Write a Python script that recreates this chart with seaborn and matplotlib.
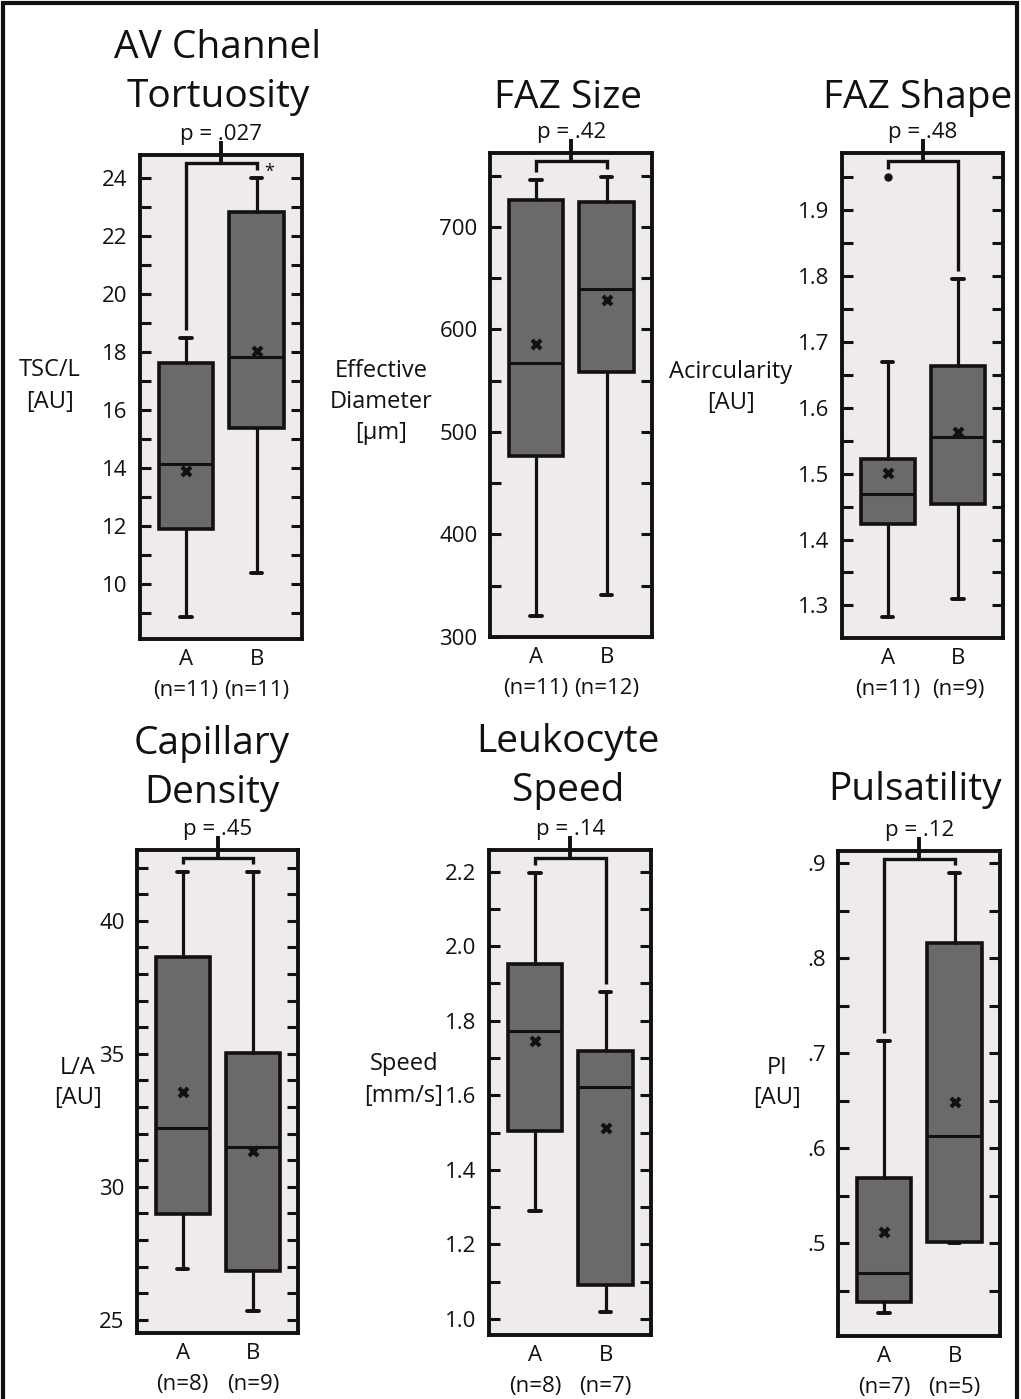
import matplotlib
matplotlib.use("Agg")
import matplotlib.pyplot as plt
import seaborn as sns
from matplotlib.patches import Rectangle
from matplotlib.ticker import FixedLocator, FixedFormatter, MultipleLocator

# ---- data ----
titles = ["AV Channel\nTortuosity", "FAZ Size", "FAZ Shape",
          "Capillary\nDensity", "Leukocyte\nSpeed", "Pulsatility"]
ylabels = ["TSC/L\n[AU]", "Effective\nDiameter\n[µm]", "Acircularity\n[AU]",
           "L/A\n[AU]", "Speed\n[mm/s]", "PI\n[AU]"]
p_labels = ["p = .027", "p = .42", "p = .48", "p = .45", "p = .14", "p = .12"]
significant = [True, False, False, False, False, False]
groups = ["A", "B"]
group_n = [[11, 11], [11, 12], [11, 9], [8, 9], [8, 7], [7, 5]]

whisker_lo = [[8.88, 10.39], [320.6, 340.7], [1.282, 1.309],
              [26.9, 25.31], [1.29, 1.02], [0.4265, 0.500]]
q1 = [[11.91, 15.39], [477.0, 558.7], [1.4235, 1.454],
      [28.97, 26.82], [1.503, 1.091], [0.4387, 0.501]]
medians = [[14.15, 17.84], [566.8, 639.0], [1.469, 1.556],
           [32.22, 31.50], [1.773, 1.622], [0.469, 0.613]]
q3 = [[17.64, 22.84], [726.6, 724.0], [1.522, 1.6635],
      [38.65, 35.04], [1.952, 1.718], [0.569, 0.816]]
whisker_hi = [[18.50, 24.02], [745.5, 749.0], [1.669, 1.796],
              [41.82, 41.82], [2.197, 1.876], [0.7123, 0.889]]
means = [[13.90, 18.05], [585.4, 629.0], [1.501, 1.563],
         [33.57, 31.35], [1.745, 1.512], [0.5116, 0.649]]
outliers = [[[], []], [[], []], [[1.951], []],
            [[], []], [[], []], [[], []]]

major_ticks = [[10, 12, 14, 16, 18, 20, 22, 24],
               [300, 400, 500, 600, 700],
               [1.3, 1.4, 1.5, 1.6, 1.7, 1.8, 1.9],
               [25, 30, 35, 40],
               [1.0, 1.2, 1.4, 1.6, 1.8, 2.0, 2.2],
               [0.5, 0.6, 0.7, 0.8, 0.9]]
tick_labels = [["10", "12", "14", "16", "18", "20", "22", "24"],
               ["300", "400", "500", "600", "700"],
               ["1.3", "1.4", "1.5", "1.6", "1.7", "1.8", "1.9"],
               ["25", "30", "35", "40"],
               ["1.0", "1.2", "1.4", "1.6", "1.8", "2.0", "2.2"],
               [".5", ".6", ".7", ".8", ".9"]]
minor_step = [1, 50, 0.05, 1, 0.1, 0.05]
y_limits = [(8.11, 24.8), (300, 772), (1.2505, 1.987),
            (24.5, 42.66), (0.957, 2.258), (0.4026, 0.9126)]

# ---- layout (pixels) ----
W, H = 1021, 1399
axes_px = [(140, 155, 302, 639), (490, 153, 652, 637), (842, 153, 1003, 638),
           (137, 850, 298, 1333), (489, 850, 651, 1335), (838, 851, 1000, 1336)]
title_xy = [(218, 58), (568, 108), (918, 108), (212, 754), (568, 752), (915, 800)]
ylabel_xy = [(50, 386), (381, 402), (731, 387), (78, 1083), (404, 1080), (777, 1083)]

BG = "#eeeaee"
BOX = "#6b696c"
INK = "#111111"

sns.set_style("white")
plt.rcParams["font.family"] = ["Open Sans", "DejaVu Sans"]

fig = plt.figure(figsize=(W / 100, H / 100), dpi=100)


def fx(x):
    return x / W


def fy(y):
    return 1 - y / H


def shift_y(ax, y, dpx):
    d = ax.transData.transform((0, y))
    return ax.transData.inverted().transform((d[0], d[1] + dpx))[1]


for i in range(6):
    l, t, r, b = axes_px[i]
    ax = fig.add_axes([fx(l), fy(b), (r - l) / W, (b - t) / H])
    ax.set_facecolor(BG)

    stats = []
    for g in range(2):
        stats.append(dict(whislo=whisker_lo[i][g], q1=q1[i][g], med=medians[i][g],
                          q3=q3[i][g], whishi=whisker_hi[i][g],
                          fliers=outliers[i][g], label=groups[g]))
    ax.bxp(stats, positions=[0, 1], widths=0.77, capwidths=0.16,
           patch_artist=True, showfliers=True,
           boxprops=dict(facecolor=BOX, edgecolor=INK, linewidth=2.6),
           whiskerprops=dict(color=INK, linewidth=2.3),
           capprops=dict(color=INK, linewidth=2.8),
           medianprops=dict(color=INK, linewidth=2.2),
           flierprops=dict(marker="o", markersize=5, markerfacecolor=INK,
                           markeredgecolor=INK))

    sns.scatterplot(x=[0, 1], y=means[i], marker="x", s=42, color=INK,
                    linewidth=3.0, ax=ax, zorder=6, legend=False)

    ax.set_xlim(-0.65, 1.64)
    ax.set_ylim(*y_limits[i])
    ax.set_xlabel("")
    ax.set_ylabel("")

    ax.yaxis.set_major_locator(FixedLocator(major_ticks[i]))
    ax.yaxis.set_major_formatter(FixedFormatter(tick_labels[i]))
    ax.yaxis.set_minor_locator(MultipleLocator(minor_step[i]))
    ax.tick_params(axis="y", which="both", direction="in", left=True, right=True,
                   length=8, width=2.2, color=INK, labelsize=16, pad=9,
                   labelcolor=INK)
    ax.set_xticks([0, 1])
    ax.tick_params(axis="x", length=0, labelbottom=False)
    for s in ax.spines.values():
        s.set_linewidth(2.8)
        s.set_color(INK)

    # group labels and counts
    for g in range(2):
        ax.annotate(groups[g], xy=(g, 0), xycoords=("data", "axes fraction"),
                    xytext=(0, -26), textcoords="offset pixels",
                    ha="center", va="baseline", fontsize=16, color=INK)
        ax.annotate(f"(n={group_n[i][g]})", xy=(g, 0), xycoords=("data", "axes fraction"),
                    xytext=(0, -57), textcoords="offset pixels",
                    ha="center", va="baseline", fontsize=16, color=INK)

    # significance bracket
    top = y_limits[i][1]
    y_br = shift_y(ax, top, -8)
    y_tick = shift_y(ax, top, 14)
    legs = []
    for g in range(2):
        hi = max([whisker_hi[i][g]] + outliers[i][g])
        legs.append(shift_y(ax, hi, 8))
    ax.plot([0, 0, 1, 1], [legs[0], y_br, y_br, legs[1]], color=INK,
            linewidth=2.4, clip_on=False, zorder=7, solid_capstyle="butt",
            solid_joinstyle="miter")
    ax.plot([0.5, 0.5], [y_br, y_tick], color=INK, linewidth=2.8,
            clip_on=False, zorder=7, solid_capstyle="butt")
    ax.annotate(p_labels[i], xy=(0.5, 1), xycoords=("data", "axes fraction"),
                xytext=(0, 15), textcoords="offset pixels",
                ha="center", va="baseline", fontsize=16, color=INK)
    if significant[i]:
        ax.text(1.1, y_br, "*", ha="left", va="top", fontsize=13, color=INK)

    # title, one text per line
    tx, ty = title_xy[i]
    for k, line in enumerate(titles[i].split("\n")):
        fig.text(fx(tx), fy(ty + k * 49), line, ha="center", va="baseline",
                 fontsize=28, color=INK)

    # y label, horizontal, left of the axis
    lx, ly = ylabel_xy[i]
    lines = ylabels[i].split("\n")
    for k, line in enumerate(lines):
        yy = ly + (k - (len(lines) - 1) / 2) * 31
        fig.text(fx(lx), fy(yy), line, ha="center", va="center",
                 fontsize=17, color=INK)

# outer frame
fig.patches.append(Rectangle((fx(3), -0.01), fx(1017) - fx(3), fy(3) + 0.01,
                             transform=fig.transFigure, fill=False,
                             edgecolor=INK, linewidth=3, zorder=10))

fig.savefig("out.png", dpi=100, facecolor="white")
